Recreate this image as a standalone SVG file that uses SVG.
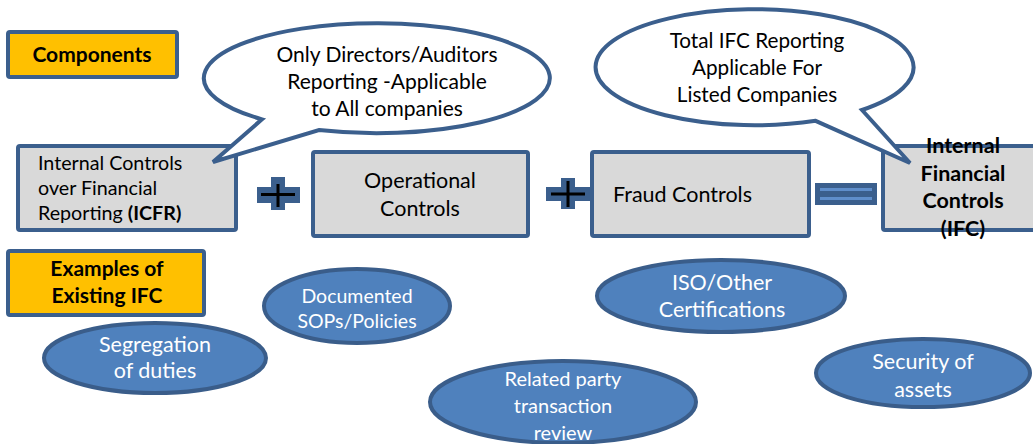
<svg xmlns="http://www.w3.org/2000/svg" width="1033" height="444" viewBox="0 0 1033 444">
<style>
text{font-family:Lato,"Open Sans","Liberation Sans",sans-serif;fill:#000}
.box{fill:#d9d9d9;stroke:#3b5f8d;stroke-width:4}
.lbl{fill:#ffc000;stroke:#3b5f8d;stroke-width:4}
.ell{fill:#4f81bd;stroke:#3a5d8a;stroke-width:4}
.call{fill:#fff;stroke:#3b5f8d;stroke-width:4;stroke-linejoin:miter}
.w{fill:#fff}
.b{font-weight:bold}
.c{text-anchor:middle}
.sign{fill:#3b5f8d}
.bk{stroke:#000;stroke-width:3}
.eq{stroke:#5f8ecb;stroke-width:3}
</style>
<g id="components">
<rect class="lbl" x="8" y="32" width="169" height="45" rx="2"/>
<text class="b c" x="92" y="62" font-size="21">Components</text>
</g>
<g id="examples">
<rect class="lbl" x="8" y="251" width="196" height="64" rx="2"/>
<text class="b c" x="107" y="276" font-size="21">Examples of</text>
<text class="b c" x="107" y="303" font-size="21">Existing IFC</text>
</g>
<g id="icfr">
<rect class="box" x="18" y="146" width="218" height="84" rx="2"/>
<text x="38" y="170" font-size="19.7">Internal Controls</text>
<text x="38" y="195" font-size="19.7">over Financial</text>
<text x="38" y="220" font-size="19.7">Reporting <tspan class="b">(ICFR)</tspan></text>
</g>
<g id="operational">
<rect class="box" x="313" y="152" width="215" height="84" rx="2"/>
<text class="c" x="420" y="188" font-size="21.5">Operational</text>
<text class="c" x="420" y="216" font-size="21.5">Controls</text>
</g>
<g id="fraud">
<rect class="box" x="592" y="152" width="217" height="84" rx="2"/>
<text x="613" y="202" font-size="21.5">Fraud Controls</text>
</g>
<g id="ifc">
<rect class="box" x="883" y="146" width="160" height="84" rx="2"/>
</g>
<g id="callout1">
<path class="call" d="M 262 119.3 L 213 162 L 319 130 A 173 55 0 1 0 262 119.3 Z"/>
<text class="c" x="387" y="62" font-size="21">Only Directors/Auditors</text>
<text class="c" x="387" y="89" font-size="21">Reporting -Applicable</text>
<text class="c" x="387" y="116" font-size="21">to All companies</text>
</g>
<g id="callout2">
<path class="call" d="M 862 110 L 910 163 L 815.6 120.8 A 159 58 0 1 1 862 110 Z"/>
<text class="c" x="757" y="48" font-size="20.7">Total IFC Reporting</text>
<text class="c" x="757" y="75" font-size="20.7">Applicable For</text>
<text class="c" x="757" y="102" font-size="20.7">Listed Companies</text>
</g>
<g id="ifc-text">
<text class="b c" x="963" y="153" font-size="21.5">Internal</text>
<text class="b c" x="963" y="181" font-size="21.5">Financial</text>
<text class="b c" x="963" y="208" font-size="21.5">Controls</text>
<text class="b c" x="963" y="236" font-size="21.5">(IFC)</text>
</g>
<g id="connectors">
<path class="sign" d="M 271 177 H 285 V 187 H 300 V 203 H 285 V 210 H 271 V 203 H 257 V 187 H 271 Z"/>
<line class="bk" x1="261" y1="194.5" x2="295" y2="194.5"/>
<line class="bk" x1="278" y1="184" x2="278" y2="207"/>
<path class="sign" d="M 561 178 H 575 V 187 H 590 V 201 H 575 V 209 H 561 V 201 H 546 V 187 H 561 Z"/>
<line class="bk" x1="551" y1="194" x2="585" y2="194"/>
<line class="bk" x1="568" y1="181" x2="568" y2="207"/>
<rect class="sign" x="815" y="183" width="62" height="22"/>
<line class="eq" x1="820" y1="189.5" x2="872" y2="189.5"/>
<line class="eq" x1="820" y1="198.5" x2="872" y2="198.5"/>
</g>
<g id="segregation">
<ellipse class="ell" cx="155" cy="358" rx="111" ry="35"/>
<text class="w c" x="155" y="352" font-size="21.5">Segregation</text>
<text class="w c" x="155" y="378" font-size="21.5">of duties</text>
</g>
<g id="sops">
<ellipse class="ell" cx="357" cy="306" rx="93" ry="37"/>
<text class="w c" x="357" y="303" font-size="19.5">Documented</text>
<text class="w c" x="357" y="328" font-size="19.5">SOPs/Policies</text>
</g>
<g id="related">
<ellipse class="ell" cx="563" cy="402" rx="133" ry="41"/>
<text class="w c" x="563" y="386" font-size="20">Related party</text>
<text class="w c" x="563" y="413" font-size="20">transaction</text>
<text class="w c" x="563" y="440" font-size="20">review</text>
</g>
<g id="iso">
<ellipse class="ell" cx="721" cy="296" rx="124" ry="36"/>
<text class="w c" x="722" y="290" font-size="21.5">ISO/Other</text>
<text class="w c" x="722" y="317" font-size="21.5">Certifications</text>
</g>
<g id="security">
<ellipse class="ell" cx="923" cy="373" rx="107" ry="34"/>
<text class="w c" x="923" y="369" font-size="21.5">Security of</text>
<text class="w c" x="923" y="397" font-size="21.5">assets</text>
</g>
</svg>
